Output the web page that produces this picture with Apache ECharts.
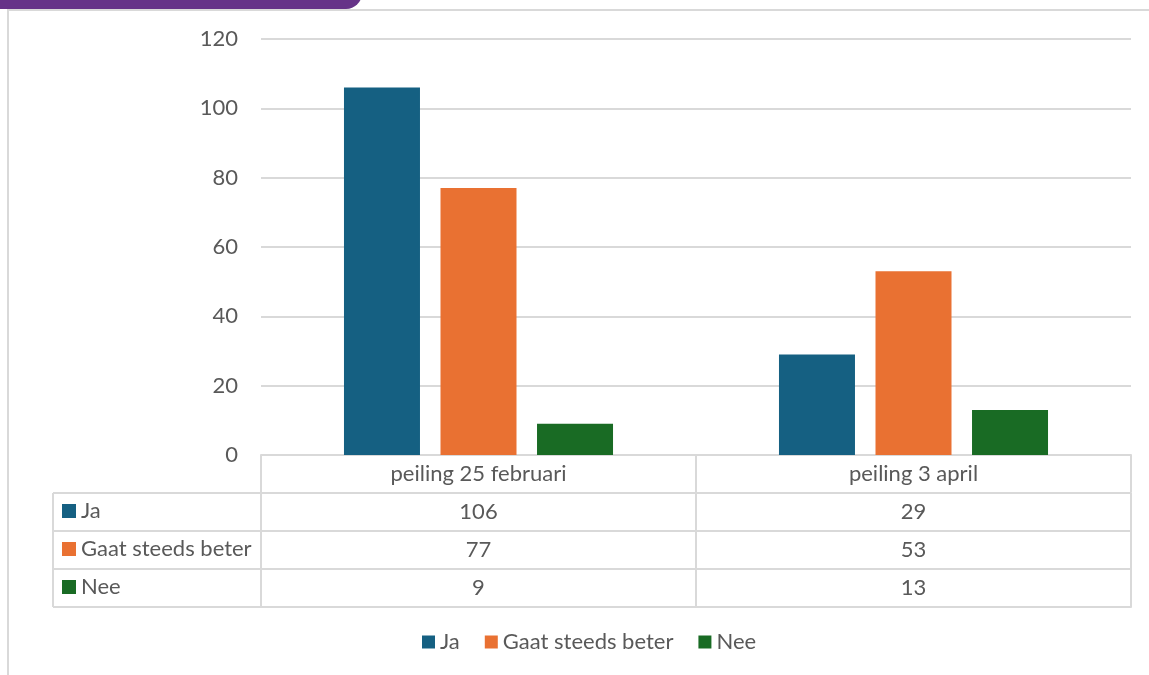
<!DOCTYPE html>
<html>
<head>
<meta charset="utf-8">
<script src="https://cdn.jsdelivr.net/npm/echarts@6/dist/echarts.min.js"></script>
<style>
html,body{margin:0;padding:0;background:#fff;}
#c{width:1149px;height:675px;}
</style>
</head>
<body>
<div id="c"></div>
<script>
const categories = ['peiling 25 februari', 'peiling 3 april'];
const seriesNames = ['Ja', 'Gaat steeds beter', 'Nee'];
const jaValues = [106, 29];
const gaatValues = [77, 53];
const neeValues = [9, 13];
const yTicks = [0, 20, 40, 60, 80, 100, 120];
const colors = ['#156082', '#E97132', '#196B24'];

const rows = [jaValues, gaatValues, neeValues];
const FONT = 'Lato';
const FS = 22;
const TXT = '#595959';
const LINE = '#d9d9d9';

const G = {left: 261, right: 18, top: 39, bottom: 220};
const rowH = 38;
const plotBottom = 675 - G.bottom;

const xAxes = [{
  type: 'category', data: categories, position: 'bottom', gridIndex: 0,
  axisLine: {show: true, lineStyle: {color: LINE, width: 2}},
  axisTick: {show: true, length: 37, interval: 0, lineStyle: {color: LINE, width: 2}},
  axisLabel: {color: TXT, fontFamily: FONT, fontSize: FS, margin: 8, interval: 0}
}];
rows.forEach((vals, r) => {
  xAxes.push({
    type: 'category', data: categories, position: 'bottom', offset: rowH * (r + 1), gridIndex: 0,
    axisLine: {show: true, lineStyle: {color: LINE, width: 2}},
    axisTick: {show: true, length: rowH, interval: 0, lineStyle: {color: LINE, width: 2}},
    axisLabel: {color: TXT, fontFamily: FONT, fontSize: FS, margin: 8, interval: 0,
      formatter: (v, i) => String(vals[i])}
  });
});
xAxes.push({
  type: 'category', data: categories, position: 'bottom', offset: rowH * 4, gridIndex: 0,
  axisLine: {show: true, lineStyle: {color: LINE, width: 2}},
  axisTick: {show: false}, axisLabel: {show: false}
});

const series = seriesNames.map((n, i) => ({
  name: n, type: 'bar', data: rows[i], xAxisIndex: 0, yAxisIndex: 0,
  barWidth: 76, barGap: '27%',
  itemStyle: {color: colors[i]}
}));

const tableLeft = 53;
const graphic = [
  {type: 'rect', shape: {x: 0, y: -10, width: 362, height: 19, r: [0, 0, 16, 0]}, style: {fill: '#663388'}},
  {type: 'line', shape: {x1: 7, y1: 10, x2: 1149, y2: 10}, style: {stroke: '#d9d9d9', lineWidth: 2}},
  {type: 'line', shape: {x1: 8, y1: 10, x2: 8, y2: 675}, style: {stroke: '#d9d9d9', lineWidth: 2}},
  {type: 'line', shape: {x1: tableLeft, y1: plotBottom + rowH, x2: tableLeft, y2: plotBottom + rowH * 4}, style: {stroke: LINE, lineWidth: 2}}
];
for (let r = 1; r <= 4; r++) {
  graphic.push({type: 'line', shape: {x1: tableLeft, y1: plotBottom + rowH * r, x2: G.left, y2: plotBottom + rowH * r}, style: {stroke: LINE, lineWidth: 2}});
}

const option = {
  backgroundColor: '#fff',
  animation: false,
  grid: G,
  xAxis: xAxes,
  yAxis: {
    type: 'value', min: yTicks[0], max: yTicks[yTicks.length - 1], interval: 20,
    axisLine: {show: false}, axisTick: {show: false},
    axisLabel: {color: TXT, fontFamily: FONT, fontSize: FS, margin: 23},
    splitLine: {lineStyle: {color: LINE, width: 2}}
  },
  legend: [{
    data: seriesNames, orient: 'vertical', left: 62, top: 500, padding: 0,
    itemWidth: 14, itemHeight: 14, icon: 'rect', itemGap: 16, selectedMode: false,
    textStyle: {color: TXT, fontFamily: FONT, fontSize: FS, lineHeight: 22}
  }, {
    data: seriesNames, orient: 'horizontal', left: 422, top: 631, padding: 0,
    itemWidth: 13, itemHeight: 13, icon: 'rect', itemGap: 25, selectedMode: false,
    textStyle: {color: TXT, fontFamily: FONT, fontSize: FS, lineHeight: 22}
  }],
  graphic: graphic,
  series: series
};
const chart = echarts.init(document.getElementById('c'), null, {renderer: 'canvas'});
chart.setOption(option);
</script>
</body>
</html>
